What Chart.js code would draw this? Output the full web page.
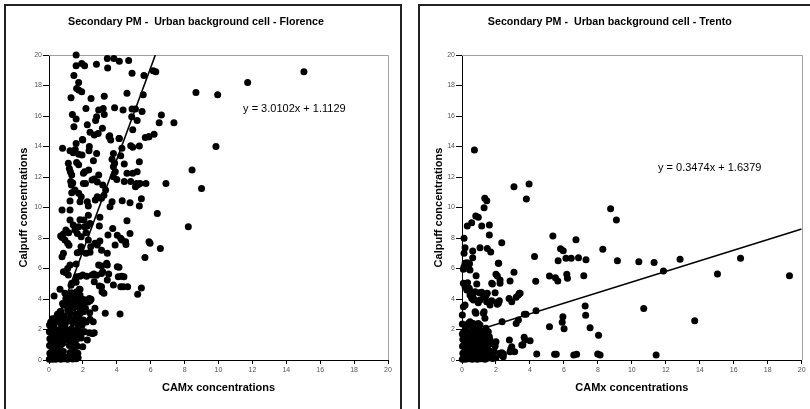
<!DOCTYPE html>
<html>
<head>
<meta charset="utf-8">
<script src="https://cdn.jsdelivr.net/npm/chart.js@4.4.1/dist/chart.umd.min.js"></script>
<style>
html, body { margin: 0; padding: 0; background: #fff; width: 810px; height: 409px; overflow: hidden; }
.panel { position: absolute; top: 4px; height: 440px; border: 2px solid #222; box-sizing: border-box; }
.box { position: absolute; top: 0; height: 409px; }
</style>
</head>
<body>
<div class="panel" style="left:4px;width:398px"></div>
<div class="panel" style="left:418px;width:430px"></div>
<div class="box" style="left:4px;width:398px"><canvas id="florenceChart"></canvas></div>
<div class="box" style="left:418px;width:399px"><canvas id="trentoChart"></canvas></div>
<script>
// CAMx (x) vs Calpuff (y)
var florencePoints = [
    [1.6,20.0],[1.6,19.3],[1.93,19.45],[2.1,19.3],[2.8,19.4],[3.44,19.78],[3.83,19.78],[4.15,19.6],[4.7,19.65],[3.46,19.15],
    [4.9,18.8],[5.6,18.65],[6.15,18.97],[6.3,18.9],[1.47,18.65],[1.75,18.2],[1.63,17.8],[1.75,17.7],[1.93,17.6],[1.3,17.2],
    [2.48,17.15],[3.26,17.3],[4.6,17.5],[5.56,17.4],[8.67,17.55],[9.95,17.4],[11.72,18.2],[15.04,18.9],[1.38,16.1],[1.6,15.8],
    [1.47,15.3],[2.18,16.5],[2.93,16.4],[3.2,16.5],[3.26,16.1],[3.87,16.55],[4.37,16.4],[4.9,16.46],[5.1,16.46],[5.49,16.3],
    [4.88,15.95],[5.2,15.7],[4.94,15.1],[2.81,15.95],[2.75,15.7],[2.26,15.43],[3.15,15.2],[2.42,14.93],[2.67,14.75],[2.9,14.86],
    [1.97,14.46],[3.58,14.7],[4.13,14.53],[5.88,14.64],[6.2,14.8],[6.5,15.56],[6.63,16.07],[7.37,15.56],
    [0.8,13.88],[1.6,14.2],[1.55,13.8],[1.24,13.73],[1.43,13.6],[1.75,13.5],[1.95,13.44],[1.99,14.43],[2.38,14.0],[2.36,13.73],
    [2.81,13.55],[2.62,13.07],[3.54,14.64],[3.64,14.43],[3.8,13.55],[3.72,13.16],[3.87,12.9],[4.15,14.53],[4.23,13.4],[4.3,13.88],
    [4.82,14.05],[4.94,13.95],[5.33,14.03],[5.68,14.6],[5.9,14.64],[9.85,14.0],[1.14,12.9],[1.2,12.56],[1.26,12.35],[1.34,12.13],
    [1.63,12.95],[1.75,12.8],[1.28,11.7],[1.4,11.6],[1.32,11.48],[2.03,12.24],[2.1,12.35],[2.34,12.46],[2.67,11.87],[2.93,12.13],
    [2.15,11.58],[2.54,11.8],[2.85,11.67],[3.17,11.48],[3.34,11.15],[3.24,10.8],[3.8,12.68],[3.91,12.35],[3.8,12.02],[4.0,11.84],
    [4.44,12.85],[4.6,12.24],[4.44,11.7],[4.94,12.24],[5.2,12.35],[5.33,13.0],[4.82,11.7],[5.1,11.36],[5.17,11.58],[5.25,11.5],
    [5.37,11.58],[5.72,11.58],[6.9,11.58],[8.44,12.46],[9.0,11.25],[0.77,9.84],[1.24,9.84],[1.24,10.43],[1.34,10.97],[1.53,11.15],
    [1.75,10.93],[1.83,10.38],[1.9,10.71],[2.03,11.58],[2.26,10.38],[2.32,10.1],[2.73,10.49],[2.85,10.71],[3.0,10.64],[3.1,10.6],
    [3.6,10.05],[3.72,10.38],[4.32,10.45],[4.78,10.31],[5.33,10.1],[5.45,10.58],[4.6,9.14],[6.39,9.61],[8.22,8.74],
    [0.69,8.13],[0.77,8.04],[0.85,8.26],[0.94,7.87],[1.0,8.52],[1.16,8.35],[1.1,7.65],[1.18,7.52],[0.85,7.0],[0.77,6.77],
    [1.24,9.18],[1.43,8.85],[1.53,8.52],[1.67,8.3],[1.75,8.74],[1.83,9.2],[2.06,9.18],[2.1,8.74],[2.26,8.79],[2.32,9.5],
    [1.9,8.09],[2.18,8.35],[2.42,8.96],[2.97,8.79],[3.0,9.36],[2.71,7.65],[2.85,7.54],[3.0,7.8],[2.32,7.87],[2.46,7.43],
    [1.89,7.43],[1.83,7.1],[1.67,7.04],[2.18,7.0],[2.42,7.06],[3.1,7.2],[3.44,7.0],[3.48,8.2],[3.76,8.63],[3.9,7.54],
    [4.03,8.18],[4.23,7.98],[4.3,7.87],[4.52,7.76],[4.54,7.58],[4.78,8.3],[5.9,7.76],[5.96,7.65],[6.57,7.32],[5.66,6.73],
    [2.93,6.23],[3.1,6.16],[3.4,6.34],[3.44,6.23],[4.03,6.12],[4.13,6.08],[1.24,6.23],[1.6,6.3],[1.1,6.0],
    [0.85,5.79],[1.0,5.73],[1.14,5.57],[1.63,5.46],[1.83,5.5],[1.99,5.57],[2.22,5.5],[2.54,5.57],[2.65,5.64],[2.81,5.55],
    [2.67,5.13],[2.97,4.85],[3.1,5.68],[3.17,5.79],[3.13,4.48],[3.44,5.25],[3.52,5.64],[3.8,4.92],[4.09,5.46],[4.29,5.5],
    [4.42,5.46],[4.23,4.81],[4.38,4.81],[4.64,4.81],[5.23,4.31],[5.45,4.72],[3.32,3.06],[4.19,3.02],[1.3,4.9],[1.6,5.1],
    [0.3,4.2],[0.65,4.64],[0.94,4.37],[1.0,4.05],[1.32,4.41],[1.63,4.48],[1.83,4.26],[1.99,3.98],[2.14,3.93],[2.42,3.89],
    [1.83,4.64],[2.71,3.39],[2.42,2.67],[1.83,2.58],[1.99,2.45],[2.38,1.79],[2.58,1.74],[2.67,1.79],[2.03,1.86],[2.26,1.31],
    [1.99,0.87],[1.34,5.03],[1.53,5.13],[1.79,4.64],[2.38,4.04],[2.48,3.98],[3.24,4.37],[3.1,4.81],[2.61,2.51],[2.03,2.62],
    [1.93,2.3],[2.52,1.75],[1.83,3.06],[2.03,3.17],[1.63,3.5],[1.73,3.72],[1.14,4.15],[0.85,3.6],[1.04,3.82],[0.65,3.17],
    [0.45,2.84],[0.25,2.62],
    [0.5,3.0],[0.7,3.2],[0.9,2.9],[1.1,3.3],[1.25,3.1],[1.45,3.4],[1.6,3.0],[1.2,3.6],[1.4,3.8],[1.55,3.55],
    [1.7,3.9],[1.85,3.3],[2.0,3.6],[2.15,3.4],[2.3,3.8],[2.4,3.1],[1.0,3.9],[0.8,3.7],[1.3,4.3],[1.5,4.1],
    [0.02,0.05],[0.1,0.1],[0.2,0.05],[0.3,0.15],[0.4,0.05],[0.5,0.1],[0.6,0.2],[0.7,0.05],[0.8,0.12],[0.9,0.08],
    [1.0,0.18],[1.1,0.05],[1.2,0.1],[1.3,0.2],[1.4,0.06],[1.5,0.12],[1.6,0.08],[1.72,0.15],
    [0.05,0.45],[0.15,0.55],[0.25,0.4],[0.35,0.6],[0.45,0.5],[0.55,0.42],[0.65,0.58],[0.75,0.45],[0.85,0.55],[1.25,0.5],
    [1.35,0.42],[1.45,0.6],[1.55,0.5],[1.7,0.45],
    [0.03,0.95],[0.12,1.05],[0.22,0.9],[0.32,1.1],[0.42,0.95],[0.52,1.05],[0.62,0.9],[0.72,1.0],[0.82,1.1],[1.2,0.95],
    [1.32,1.08],[1.42,0.92],[1.55,1.02],[1.68,0.9],
    [0.05,1.4],[0.15,1.5],[0.25,1.35],[0.35,1.55],[0.45,1.42],[0.55,1.6],[0.65,1.3],[0.75,1.48],[0.85,1.38],[0.95,1.58],
    [1.05,1.45],[1.15,1.3],[1.25,1.55],[1.35,1.4],[1.5,1.5],[1.62,1.35],[1.75,1.6],[1.9,1.45],
    [0.02,1.85],[0.12,2.0],[0.22,1.9],[0.32,2.1],[0.45,1.95],[0.58,1.82],[0.7,2.05],[0.82,1.9],[0.95,2.08],[1.08,1.95],
    [1.2,1.85],[1.32,2.05],[1.45,1.9],[1.6,2.0],[1.78,1.88],[1.95,1.8],[2.1,1.85],
    [0.03,2.3],[0.1,2.5],[0.2,2.7],[0.3,2.4],[0.4,2.6],[0.55,2.75],[0.65,2.45],[0.8,2.6],[0.95,2.35],[1.1,2.55],
    [1.25,2.75],[1.4,2.45],[1.55,2.65],[1.7,2.4],[1.8,2.7],[1.95,2.3],[2.2,2.5]
];

var trentoPoints = [
    [0.73,13.77],[3.06,11.36],[3.95,11.54],[3.79,10.56],[1.34,10.6],[1.46,10.45],[1.3,9.99],[8.75,9.92],[9.09,9.18],[0.81,9.44],
    [0.96,9.36],[0.57,9.0],[0.31,8.79],[1.16,8.79],[1.61,8.85],[0.12,7.98],[1.61,8.2],[2.34,7.69],[0.18,7.36],[0.12,7.0],
    [0.63,7.15],[1.06,7.36],[1.49,7.32],[1.69,7.08],[0.63,6.71],[2.16,6.34],[4.27,6.78],[5.35,8.13],[5.8,7.3],[5.96,7.17],
    [5.66,6.51],[6.12,6.67],[6.43,6.67],[6.71,7.89],[6.86,6.71],[7.3,6.58],[8.29,7.26],[9.15,6.51],[10.41,6.45],[11.31,6.4],
    [12.84,6.6],[16.4,6.67],[0.12,6.12],[0.28,6.38],[0.43,6.34],
    [11.86,5.84],[15.04,5.64],[19.28,5.53],[13.7,2.58],[10.7,3.37],[11.43,0.33],[7.99,0.39],[8.13,0.33],[8.04,1.62],[7.54,2.12],
    [7.28,2.93],[7.25,3.54],[6.58,0.33],[6.75,0.37],[5.55,0.37],[5.45,0.37],[5.94,2.84],[6.01,2.05],[5.9,2.47],[5.15,2.18],
    [4.4,0.39],[4.36,3.23],[3.77,3.0],[3.67,3.0],[3.66,1.49],[3.71,1.31],[4.01,1.27],[3.58,0.98],[3.38,4.37],[3.19,4.11],
    [3.19,2.4],[3.32,2.62],[2.87,0.7],[3.1,0.54],[2.77,4.04],[2.83,5.18],[3.06,5.75],[4.34,5.16],[5.15,5.51],[5.5,5.4],
    [5.64,5.18],[6.17,5.62],[6.21,5.36],[7.17,5.53],[2.36,2.51],[2.44,0.39],[2.34,0.48],[1.95,0.92],[2.0,1.2],[2.0,5.62],
    [2.08,5.51],[2.24,5.25],[2.14,6.34],[1.79,4.98],[1.95,4.41],[2.08,3.78],[2.08,3.65],[1.75,3.89],[1.3,3.17],[1.49,4.37],
    [1.65,3.61],[1.41,4.2],[1.16,4.44],[1.3,4.15],[0.83,5.53],[0.87,4.98],[1.06,3.93],[0.96,3.76],[0.77,3.17],[0.33,5.07],
    [0.43,4.7],[0.51,4.48],[0.63,4.15],[0.71,3.98],[0.18,3.6],[0.08,3.5],[0.02,2.95],[0.02,2.36],[0.08,5.95],[0.18,6.34],
    [0.31,6.01],[0.43,6.3],[0.47,5.9],[0.31,2.3],[0.47,2.51],[0.63,2.18],[0.87,1.86],[1.06,2.3],[1.16,1.86],[1.41,2.08],
    [1.55,1.86],[1.61,1.53],[1.65,1.31],
    [0.08,5.03],[0.18,4.8],[0.28,4.59],[0.47,4.26],[0.57,4.05],[0.67,3.93],[0.77,4.48],[1.02,4.41],[1.26,4.26],[1.75,5.03],
    [2.24,5.03],[1.45,3.82],[2.14,3.72],[2.2,3.89],[2.93,3.82],[3.32,4.26],[3.42,4.37],[0.82,3.06],[1.26,3.06],[1.35,2.73],
    [0.37,2.4],[0.67,2.4],[0.96,2.4],[1.45,1.2],[2.79,1.31],[2.93,0.87],[2.83,0.54],[3.52,0.98],[2.24,0.44],[2.34,0.33],
    [2.43,0.22],
    [0.02,0.05],[0.1,0.15],[0.2,0.05],[0.3,0.2],[0.4,0.08],[0.5,0.15],[0.6,0.05],[0.7,0.2],[0.8,0.1],[0.9,0.05],
    [1.0,0.18],[1.1,0.08],[1.2,0.15],[1.35,0.05],[1.5,0.12],[1.65,0.2],[1.8,0.1],[2.0,0.15],
    [0.05,0.45],[0.15,0.55],[0.25,0.4],[0.35,0.6],[0.45,0.48],[0.55,0.62],[0.65,0.42],[0.75,0.55],[0.85,0.45],[0.95,0.6],
    [1.05,0.5],[1.2,0.42],[1.3,0.6],[1.45,0.5],[1.6,0.62],[1.75,0.45],[1.9,0.55],
    [0.03,0.9],[0.12,1.0],[0.22,0.85],[0.32,1.05],[0.42,0.92],[0.55,1.0],[0.68,0.88],[0.8,1.05],[0.92,0.95],[1.05,1.1],
    [1.15,0.9],[1.3,1.0],[1.5,0.9],[1.62,1.05],
    [0.05,1.35],[0.15,1.5],[0.25,1.3],[0.38,1.45],[0.5,1.6],[0.62,1.35],[0.75,1.5],[0.9,1.4],[1.02,1.6],[1.12,1.35],
    [1.25,1.55],[1.38,1.42],
    [0.02,1.7],[0.1,1.85],[0.2,2.0],[0.35,1.75],[0.55,1.9],[0.75,1.8],[0.95,2.0],[1.2,1.75],[1.35,1.9]
];

// linear trendlines [slope, intercept]
var florenceFit = [3.0102, 1.1129];
var trentoFit = [0.3474, 1.6379];

var axisMin = 0;
var axisMax = 20;
var axisStep = 2;

var font = '"Liberation Sans", Arial, sans-serif';

function fitLine(fit) {
    var xEnd = Math.min(axisMax, (axisMax - fit[1]) / fit[0]);
    return [{x: axisMin, y: fit[1]}, {x: xEnd, y: fit[0] * xEnd + fit[1]}];
}

var plotFrame = {
    id: 'plotFrame',
    beforeDatasetsDraw: function(chart) {
        var a = chart.chartArea, ctx = chart.ctx;
        ctx.save();
        ctx.strokeStyle = '#a0a0a0';
        ctx.lineWidth = 1;
        ctx.beginPath();
        ctx.moveTo(a.left, Math.round(a.top) + 0.5);
        ctx.lineTo(Math.round(a.right) + 0.5, Math.round(a.top) + 0.5);
        ctx.lineTo(Math.round(a.right) + 0.5, a.bottom);
        ctx.stroke();
        ctx.restore();
    },
    afterDraw: function(chart, args, opts) {
        var ctx = chart.ctx;
        ctx.save();
        ctx.fillStyle = '#000';
        ctx.font = '11px ' + font;
        ctx.textBaseline = 'middle';
        ctx.fillText(opts.label, chart.scales.x.getPixelForValue(opts.at[0]), chart.scales.y.getPixelForValue(opts.at[1]));
        ctx.restore();
    }
};

function renderChart(id, points, fit, title, yAxisWidth, rightPad, yTitlePad, labelAt) {
    var label = 'y = ' + fit[0].toFixed(4) + 'x + ' + fit[1].toFixed(4);
    new Chart(document.getElementById(id), {
        type: 'scatter',
        data: {
            datasets: [{
                type: 'line',
                data: fitLine(fit),
                borderColor: '#000',
                borderWidth: 1.6,
                pointRadius: 0,
                fill: false
            }, {
                data: points.map(function(p) { return {x: p[0], y: p[1]}; }),
                pointRadius: 3.5,
                pointBackgroundColor: '#000',
                pointBorderWidth: 0,
                clip: false
            }]
        },
        options: {
            responsive: true,
            maintainAspectRatio: false,
            animation: false,
            events: [],
            layout: { padding: { left: 0, right: rightPad, top: 0, bottom: 0 } },
            plugins: {
                legend: { display: false },
                tooltip: { enabled: false },
                title: {
                    display: true,
                    text: title,
                    color: '#000',
                    font: { family: font, size: 10.7, weight: 'bold' },
                    padding: { top: 15.6, bottom: 26.6 }
                },
                plotFrame: { label: label, at: labelAt }
            },
            scales: {
                x: {
                    type: 'linear',
                    min: axisMin,
                    max: axisMax,
                    afterFit: function(scale) { scale.height = 49; },
                    border: { color: '#000', width: 1 },
                    grid: { drawOnChartArea: false, drawTicks: true, tickLength: 4, color: '#000' },
                    ticks: { stepSize: axisStep, padding: 2, color: '#555', font: { family: font, size: 7 }, maxRotation: 0 },
                    title: {
                        display: true,
                        text: 'CAMx concentrations',
                        color: '#000',
                        font: { family: font, size: 11, weight: 'bold' },
                        padding: { top: 0, bottom: 14.4 }
                    }
                },
                y: {
                    type: 'linear',
                    min: axisMin,
                    max: axisMax,
                    afterFit: function(scale) { scale.width = yAxisWidth; },
                    border: { color: '#000', width: 1 },
                    grid: { drawOnChartArea: false, drawTicks: true, tickLength: 6, color: '#000' },
                    ticks: { stepSize: axisStep, padding: 1, color: '#555', font: { family: font, size: 7 } },
                    title: {
                        display: true,
                        text: 'Calpuff concentrations',
                        color: '#000',
                        font: { family: font, size: 11, weight: 'bold' },
                        padding: { top: yTitlePad, bottom: 0 }
                    }
                }
            }
        },
        plugins: [plotFrame]
    });
}

renderChart('florenceChart', florencePoints, florenceFit, 'Secondary PM -  Urban background cell - Florence', 45, 14, 13.4, [11.45, 16.46]);
renderChart('trentoChart', trentoPoints, trentoFit, 'Secondary PM -  Urban background cell - Trento', 44, 15.3, 14.4, [11.54, 12.59]);
</script>
</body>
</html>
